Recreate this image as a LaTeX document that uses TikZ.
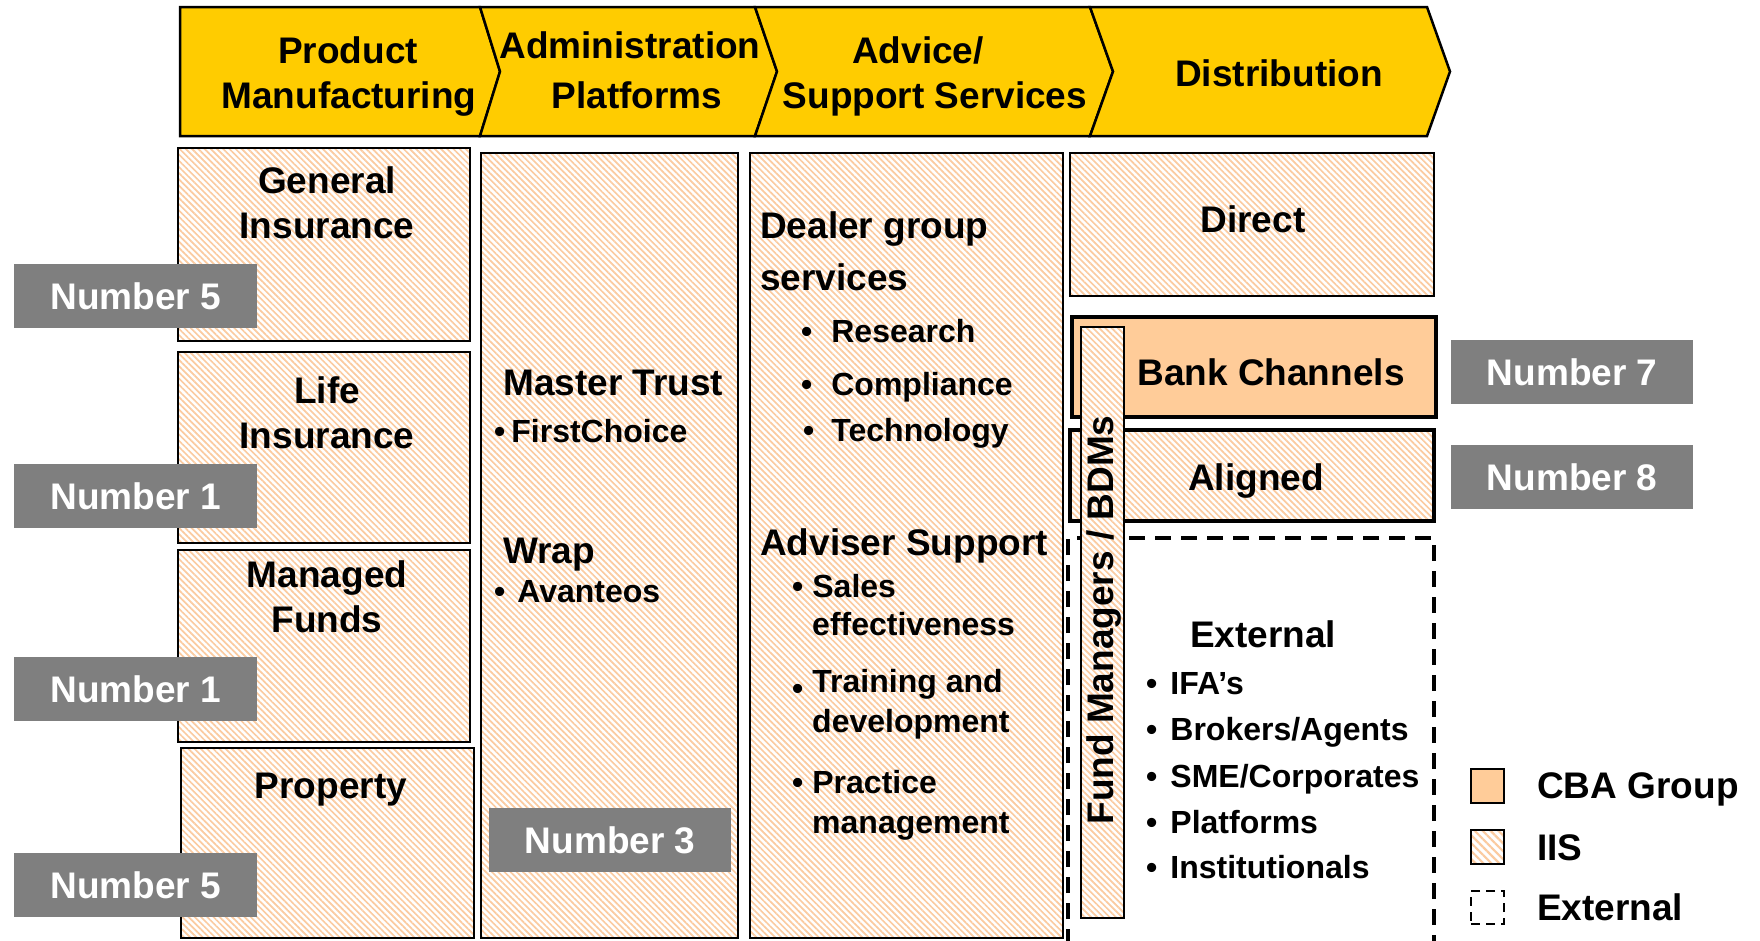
\documentclass[tikz,border=0pt]{standalone}
\usepackage{fontspec}
\setmainfont{Liberation Sans}
\usetikzlibrary{patterns.meta}
\definecolor{hdr}{RGB}{255,204,0}
\definecolor{peach}{RGB}{255,204,153}
\definecolor{hatchc}{RGB}{251,203,160}
\definecolor{numgray}{RGB}{127,127,127}
\tikzset{
  tbig/.style={font=\fontsize{37}{44}\selectfont\bfseries, inner sep=0pt},
  tsm/.style={font=\fontsize{32}{38}\selectfont\bfseries, inner sep=0pt},
  hatched/.style={preaction={fill=white}, pattern={Lines[angle=-45,distance=4.4pt,line width=1.7pt]}, pattern color=hatchc},
  boxp/.style={draw=black, line width=2.2pt, hatched, anchor=north west, inner sep=0pt, outer sep=0pt},
  numbox/.style={fill=numgray, text=white, anchor=north west, inner sep=0pt, minimum width=243pt, minimum height=64pt, font=\fontsize{37}{44}\selectfont\bfseries},
  hdrshape/.style={fill=hdr, draw=black, line width=2.5pt, line join=miter},
  extline/.style={draw=black, line width=4.5pt, dash pattern=on 16pt off 10pt},
}
\begin{document}
\begin{tikzpicture}[x=1pt,y=-1pt]
\useasboundingbox (0,0) rectangle (1760,940);

% ---- header chevrons
\draw[hdrshape] (180,7) -- (480,7) -- (500,71.5) -- (480,136) -- (180,136) -- cycle;
\draw[hdrshape] (480,7) -- (755,7) -- (777,71.5) -- (755,136) -- (480,136) -- (500,71.5) -- cycle;
\draw[hdrshape] (755,7) -- (1090,7) -- (1113,71.5) -- (1090,136) -- (755,136) -- (777,71.5) -- cycle;
\draw[hdrshape] (1090,7) -- (1427,7) -- (1450,71.5) -- (1427,136) -- (1090,136) -- (1113,71.5) -- cycle;
\node[tbig, anchor=base] (h1a) at (348,63) {Product};
\node[tbig, anchor=base] (h1b) at (349,108) {Manufacturing};
\node[tbig, anchor=base] (h2a) at (630,58) {Administration};
\node[tbig, anchor=base] (h2b) at (637,108) {Platforms};
\node[tbig, anchor=base] (h3a) at (918,63) {Advice/};
\node[tbig, anchor=base] (h3b) at (935,108) {Support Services};
\node[tbig, anchor=base] (h4) at (1279,86) {Distribution};

% ---- column 1
\node[boxp, minimum width=292pt, minimum height=193pt] (gi) at (178,148) {};
\node[boxp, minimum width=292pt, minimum height=191pt] (li) at (178,352) {};
\node[boxp, minimum width=292pt, minimum height=192pt] (mf) at (178,550) {};
\node[boxp, minimum width=293pt, minimum height=190pt] (pr) at (181,748) {};
\node[tbig, anchor=base] (gia) at (327,193) {General};
\node[tbig, anchor=base] (gib) at (327,238) {Insurance};
\node[tbig, anchor=base] (lia) at (327,403) {Life};
\node[tbig, anchor=base] (lib) at (327,448) {Insurance};
\node[tbig, anchor=base] (mfa) at (327,587) {Managed};
\node[tbig, anchor=base] (mfb) at (327,632) {Funds};
\node[tbig, anchor=base] (pra) at (331,798) {Property};

% ---- column 2
\node[boxp, line width=2pt, minimum width=257pt, minimum height=785pt] (adm) at (481,153) {};
\node[tbig, anchor=base west] (mt) at (503,395) {Master Trust};
\node[tsm, anchor=base west] (fc) at (494,442) {\textbullet\hspace{6pt}FirstChoice};
\node[tbig, anchor=base west] (wr) at (503,563) {Wrap};
\node[tsm, anchor=base west] (av) at (494,602) {\textbullet\hspace{12pt}Avanteos};

% ---- column 3
\node[boxp, line width=2pt, minimum width=313pt, minimum height=785pt] (adv) at (750,153) {};
\node[tbig, anchor=base west] (dg1) at (760,238) {Dealer group};
\node[tbig, anchor=base west] (dg2) at (760,290) {services};
\node[tsm, anchor=base west] (rs) at (801,342) {\textbullet\hspace{19pt}Research};
\node[tsm, anchor=base west] (cp) at (801,395) {\textbullet\hspace{19pt}Compliance};
\node[tsm, anchor=base west] (tc) at (803,441) {\textbullet\hspace{17pt}Technology};
\node[tbig, anchor=base west] (as) at (760,555) {Adviser Support};
\node[tsm, anchor=base west] (sa1) at (792,597) {\textbullet\hspace{9pt}Sales};
\node[tsm, anchor=base west] (sa2) at (812,635) {effectiveness};
\node[tsm, anchor=base west] (td1) at (792,692) {\raisebox{-7pt}{\textbullet}\hspace{9pt}Training and};
\node[tsm, anchor=base west] (td2) at (812,732) {development};
\node[tsm, anchor=base west] (pm1) at (792,793) {\textbullet\hspace{9pt}Practice};
\node[tsm, anchor=base west] (pm2) at (812,833) {management};

% ---- column 4
\node[boxp, line width=2pt, minimum width=364pt, minimum height=143pt] (dir) at (1070,153) {};
\node[draw=black, line width=4pt, fill=peach, anchor=north west, inner sep=0pt, minimum width=364pt, minimum height=100pt] (bank) at (1070,315) {};
\node[boxp, line width=4pt, minimum width=364pt, minimum height=91pt] (ali) at (1070,430) {};
\coordinate (ebl) at (1068,945);
\coordinate (etl) at (1068,538);
\coordinate (etr) at (1434,538);
\coordinate (ebr) at (1434,945);
\draw[extline] (ebl) -- (etl) -- (etr) -- (ebr);
\node[boxp, line width=2pt, minimum width=43.5pt, minimum height=591pt] (fm) at (1080.5,327) {};
\node[tbig, rotate=90, anchor=base] (fmt) at (1113,620) {Fund Managers / BDMs};
\node[tbig, anchor=base] (dirt) at (1253,232) {Direct};
\node[tbig, anchor=base] (bankt) at (1271,385) {Bank Channels};
\node[tbig, anchor=base] (alit) at (1256,490) {Aligned};
\node[tbig, anchor=base] (extt) at (1263,647) {External};
\node[tsm, anchor=base west] (e1) at (1146,694) {\textbullet\hspace{13pt}IFA’s};
\node[tsm, anchor=base west] (e2) at (1146,740) {\textbullet\hspace{13pt}Brokers/Agents};
\node[tsm, anchor=base west] (e3) at (1146,787) {\textbullet\hspace{13pt}SME/Corporates};
\node[tsm, anchor=base west] (e4) at (1146,833) {\textbullet\hspace{13pt}Platforms};
\node[tsm, anchor=base west] (e5) at (1146,878) {\textbullet\hspace{13pt}Institutionals};

% ---- number labels
\node[numbox] (n5a) at (14,264) {Number 5};
\node[numbox] (n1a) at (14,464) {Number 1};
\node[numbox] (n1b) at (14,657) {Number 1};
\node[numbox] (n5b) at (14,853) {Number 5};
\node[numbox, minimum width=242pt] (n3) at (489,808) {Number 3};
\node[numbox, minimum width=242pt] (n7) at (1451,340) {Number 7};
\node[numbox, minimum width=242pt] (n8) at (1451,445) {Number 8};

% ---- legend
\node[draw=black, line width=2pt, fill=peach, anchor=north west, inner sep=0pt, minimum width=33pt, minimum height=34pt] (lg1) at (1470,768) {};
\node[draw=black, line width=2.5pt, anchor=north west, inner sep=0pt, minimum width=33pt, minimum height=34pt, preaction={fill=white}, pattern={Lines[angle=-45,distance=5.6pt,line width=2.2pt]}, pattern color=hatchc] (lg2) at (1470,829) {};
\node[draw=black, line width=2pt, dash pattern=on 9pt off 6pt, anchor=north west, inner sep=0pt, minimum width=33pt, minimum height=33pt] (lg3) at (1470,890) {};
\node[tbig, anchor=base west] (lt1) at (1537,798) {CBA Group};
\node[tbig, anchor=base west] (lt2) at (1537,860) {IIS};
\node[tbig, anchor=base west] (lt3) at (1537,920) {External};
\end{tikzpicture}
\end{document}
